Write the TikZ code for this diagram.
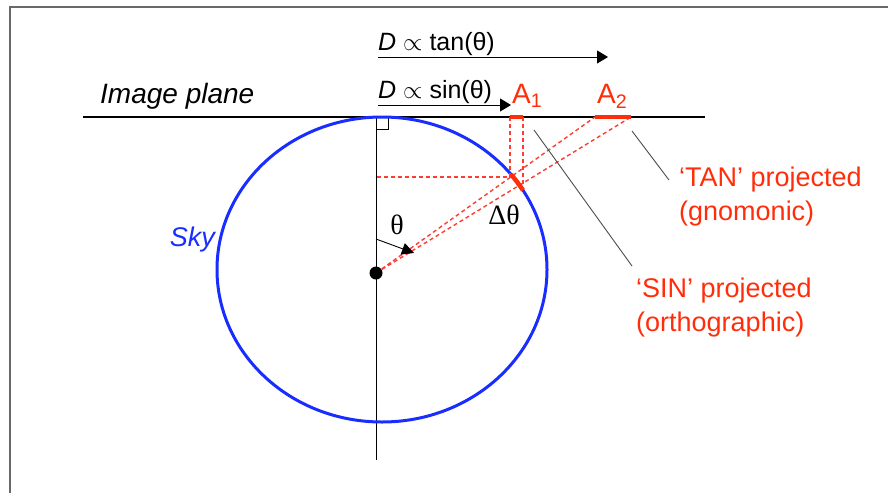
\documentclass[tikz,border=0pt]{standalone}
\usepackage{fontspec}
\setmainfont{Liberation Sans}
\newfontfamily\greekserif{Liberation Serif}
\usepackage{tikz}
\usetikzlibrary{arrows.meta,positioning}
\definecolor{skyBlue}{RGB}{25,45,255}
\definecolor{projRed}{RGB}{255,45,10}
\definecolor{rayRed}{RGB}{255,60,50}
\definecolor{frameGray}{RGB}{105,105,105}

\begin{document}
\begin{tikzpicture}[
    x=1pt, y=-1pt,
    lbl/.style={inner sep=0pt, font=\fontsize{25}{30}\selectfont},
    redlbl/.style={inner sep=0pt, text=projRed, font=\fontsize{27}{34}\selectfont, align=left},
    greek/.style={inner sep=0pt, font=\greekserif\fontsize{28}{32}\selectfont},
    ray/.style={rayRed, line width=1.4pt, dash pattern=on 4pt off 3pt},
    leader/.style={draw=black!70, line width=0.9pt},
    pointer/.style={-{Triangle[length=11pt,width=13pt]}, line width=1pt}
]
    \useasboundingbox (0,0) rectangle (888,493);

    % Frame
    \draw[frameGray, line width=1.5pt] (888,7) -- (10,7) -- (10,493);

    % Image plane
    \coordinate (planeL) at (83,117);
    \coordinate (planeR) at (705,117);
    \draw[line width=1.6pt] (planeL) -- (planeR);
    \node[lbl, anchor=base west, font=\itshape\fontsize{28}{32}\selectfont] (plane) at (100,103) {Image plane};

    % Sky
    \coordinate (top) at (376,117);
    \coordinate (bottom) at (376,460);
    \coordinate (O) at (376,273);
    \draw[line width=1pt] (top) -- (bottom);
    \draw[line width=0.8pt] (376,117) rectangle (388,129);
    \draw[skyBlue, line width=3pt] (382,269.5) ellipse [x radius=165pt, y radius=152.5pt];
    \node[lbl, anchor=east, text=skyBlue, font=\itshape\fontsize{27}{32}\selectfont] (sky) at (215,240) {Sky};

    % D arrows
    \node[lbl, anchor=base west] (tanlbl) at (378,50) {\textit{D} $\propto$ tan(θ)};
    \coordinate (tanA) at (378,57);
    \coordinate (tanB) at (608,57);
    \draw[pointer] (tanA) -- (tanB);
    \node[lbl, anchor=base west] (sinlbl) at (378,98) {\textit{D} $\propto$ sin(θ)};
    \coordinate (sinA) at (378,105);
    \coordinate (sinB) at (511,105);
    \draw[pointer] (sinA) -- (sinB);

    % Projected points
    \coordinate (a1L) at (510,117);
    \coordinate (a1R) at (523,117);
    \coordinate (a2L) at (595,117);
    \coordinate (a2R) at (631,117);
    \coordinate (s1) at (510,177);
    \coordinate (s2) at (523,186);
    \coordinate (h) at (376,177);
    \draw[ray] (O) -- (a2L);
    \draw[ray] (O) -- (a2R);
    \draw[ray] (a1L) -- (s1) -- (h);
    \draw[ray] (a1R) -- (s2);
    \draw[projRed, line width=4pt] (a1L) -- (a1R);
    \draw[projRed, line width=4pt] (a2L) -- (a2R);
    \draw[projRed, line width=4.5pt] plot[domain=31.3:38.6, samples=10] ({382+165*cos(\x)},{269.5-152.5*sin(\x)});
    \node[redlbl, anchor=base west, font=\fontsize{28}{32}\selectfont] (A1) at (512,103) {A\textsubscript{1}};
    \node[redlbl, anchor=base west, font=\fontsize{28}{32}\selectfont] (A2) at (597,103) {A\textsubscript{2}};

    % Angles
    \fill (O) circle (6.5pt);
    \coordinate (thA) at (376,239);
    \coordinate (thB) at (414,253);
    \draw[-{Triangle[length=12pt,width=12pt]}, line width=0.9pt] (thA) -- (thB);
    \node[greek] (theta) at (397,225) {θ};
    \node[greek] (dtheta) at (504,215) {Δθ};

    % Notes
    \node[redlbl, anchor=west] (tannote) at (679,197) {‘TAN’ projected\\(gnomonic)};
    \node[redlbl, anchor=west] (sinnote) at (636,308) {‘SIN’ projected\\(orthographic)};
    \coordinate (tanC) at (632,131);
    \coordinate (tanD) at (669,180);
    \coordinate (sinC) at (534,130);
    \coordinate (sinD) at (632,266);
    \draw[leader] (tanC) -- (tanD);
    \draw[leader] (sinC) -- (sinD);
\end{tikzpicture}
\end{document}
